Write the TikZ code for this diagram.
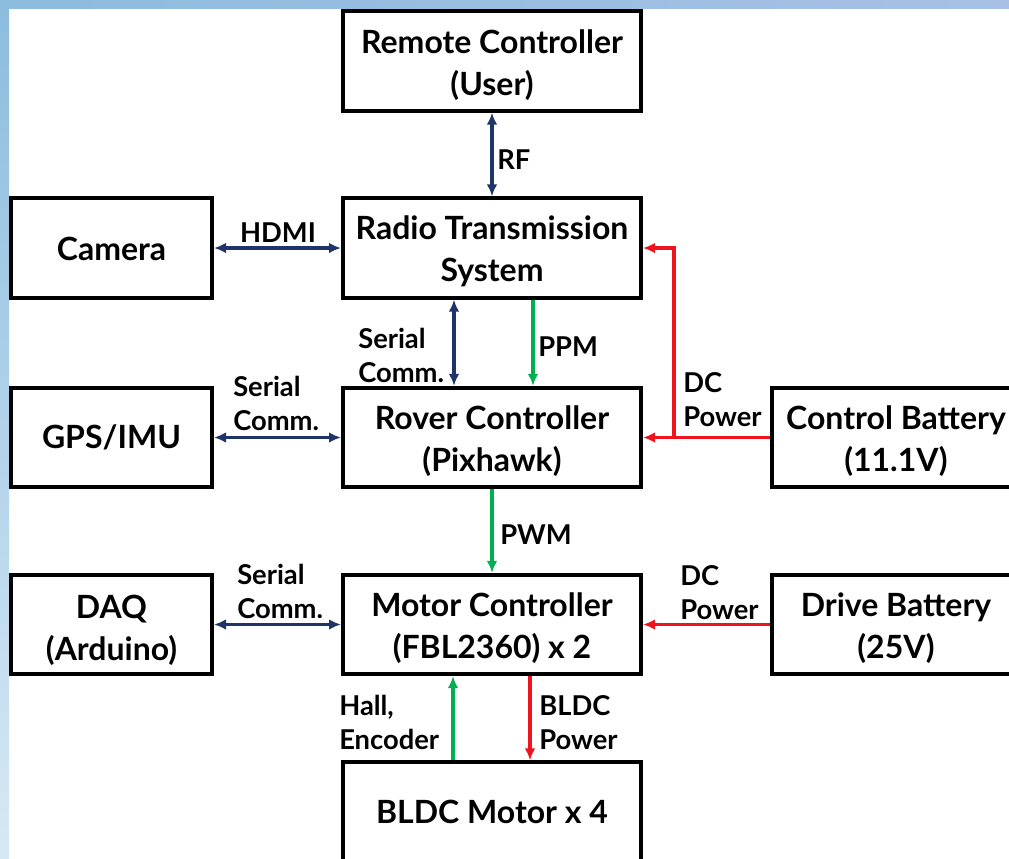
\documentclass[tikz,border=0pt]{standalone}
\usepackage{fontspec}
\setmainfont{Lato}
\usetikzlibrary{arrows.meta}
\definecolor{navy}{RGB}{31,52,105}
\definecolor{grn}{RGB}{0,176,80}
\definecolor{rd}{RGB}{238,20,30}
\definecolor{bgTL}{RGB}{140,188,222}
\definecolor{bgTR}{RGB}{168,192,230}
\definecolor{bgBL}{RGB}{215,232,245}
\newcommand\tstrut{\rule{0pt}{23.5pt}}
\begin{document}
\begin{tikzpicture}[x=0.75pt,y=-0.75pt,
  box/.style={draw=black,line width=3pt,fill=white,align=center,inner sep=0pt,
    font=\bfseries\fontsize{24}{31.5}\selectfont},
  midbox/.style={box,minimum width=223.5pt,minimum height=74.5pt},
  sidebox/.style={box,minimum width=150.75pt,minimum height=74.5pt},
  rightbox/.style={box,minimum width=186pt,minimum height=74.5pt},
  lbl/.style={font=\bfseries\fontsize{20.5}{25.5}\selectfont,align=left,inner sep=0pt},
  bi/.style={draw=navy,line width=2.6pt,{Latex[length=9pt,width=8pt]}-{Latex[length=9pt,width=8pt]}},
  grarr/.style={draw=grn,line width=2.6pt,-{Latex[length=9pt,width=8pt]}},
  rdarr/.style={draw=rd,line width=2.6pt,-{Latex[length=9pt,width=8pt]}}]
\useasboundingbox (0,0) rectangle (1009,858);
\clip (0,0) rectangle (1009,858);
\fill[white] (0,0) rectangle (1009,858);
\shade[top color=bgTL,bottom color=bgBL] (0,0) rectangle (9,858);
\shade[left color=bgTL,right color=bgTR] (0,0) rectangle (1009,8);

% boxes
\node[midbox] (remote) at (492,61) {\tstrut Remote Controller\\(User)};
\node[sidebox] (camera) at (111.5,248) {\rule{0pt}{19pt}Camera};
\node[midbox] (radio) at (492,248) {\tstrut Radio Transmission\\System};
\node[sidebox] (gps) at (111.5,437.5) {GPS/IMU};
\node[midbox] (rover) at (492,437.5) {\tstrut Rover Controller\\(Pixhawk)};
\node[rightbox] (cbat) at (896,437.5) {\tstrut Control Battery\\(11.1V)};
\node[sidebox] (daq) at (111.5,624.5) {\rule{0pt}{26pt}DAQ\\(Arduino)};
\node[midbox] (motor) at (492,624.5) {\tstrut Motor Controller\\(FBL2360) x 2};
\node[rightbox] (dbat) at (896,624.5) {\tstrut Drive Battery\\(25V)};
\node[midbox] (bldc) at (492,812) {BLDC Motor x 4};

% connectors
\draw[bi] (remote.south) -- (radio.north);
\draw[bi] (camera.east) -- (radio.west);
\draw[bi] ([xshift=-28.5pt]radio.south) -- ([xshift=-28.5pt]rover.north);
\draw[grarr] ([xshift=30.75pt]radio.south) -- ([xshift=30.75pt]rover.north);
\draw[bi] (gps.east) -- (rover.west);
\draw[rdarr] (cbat.west) -- (rover.east);
\draw[rdarr] ([xshift=23.25pt]rover.east) |- (radio.east);
\draw[grarr] (rover.south) -- (motor.north);
\draw[bi] (daq.east) -- (motor.west);
\draw[rdarr] (dbat.west) -- (motor.east);
\draw[grarr] ([xshift=-29.25pt]bldc.north) -- ([xshift=-29.25pt]motor.south);
\draw[rdarr] ([xshift=28.5pt]motor.south) -- ([xshift=28.5pt]bldc.north);

% labels
\node[lbl,anchor=west] (lrf) at (497,160) {RF};
\node[lbl] (lhdmi) at (278,233) {HDMI};
\node[lbl,anchor=west] (lser1) at (358,355) {Serial\\Comm.};
\node[lbl,anchor=west] (lppm) at (538,347) {PPM};
\node[lbl,anchor=west] (lser2) at (233,403) {Serial\\Comm.};
\node[lbl,anchor=west] (ldc1) at (683,400) {DC\\Power};
\node[lbl,anchor=west] (lpwm) at (500,535) {PWM};
\node[lbl,anchor=west] (lser3) at (237,591) {Serial\\Comm.};
\node[lbl,anchor=west] (ldc2) at (680,593) {DC\\Power};
\node[lbl,anchor=west] (lhall) at (339,722) {Hall,\\Encoder};
\node[lbl,anchor=west] (lbldc) at (539,723) {BLDC\\Power};
\end{tikzpicture}
\end{document}
